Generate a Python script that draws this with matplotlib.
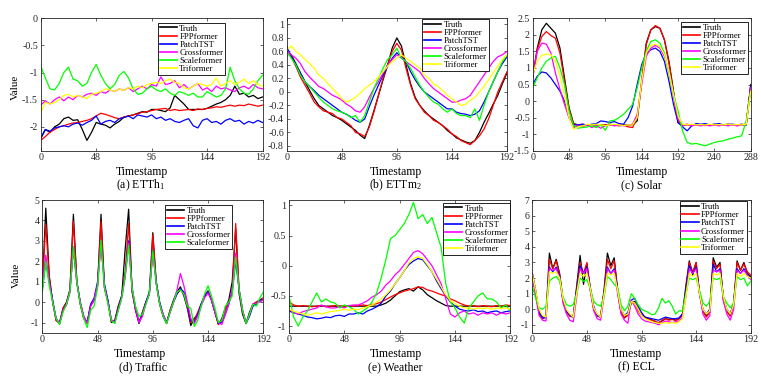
import numpy as np
import matplotlib
matplotlib.use('Agg')
import matplotlib.pyplot as plt
from matplotlib.ticker import FormatStrFormatter

plt.rcParams['font.family'] = 'serif'
plt.rcParams['font.serif'] = ['Liberation Serif', 'DejaVu Serif']
plt.rcParams['mathtext.fontset'] = 'stix'
plt.rcParams['axes.unicode_minus'] = False

names = ['Truth', 'FPPformer', 'PatchTST', 'Crossformer', 'Scaleformer', 'Triformer']
# matlab-like pure colours
colors = [(0, 0, 0), (1, 0, 0), (0, 0, 1), (1, 0, 1), (0, 1, 0), (1, 1, 0)]

# time grids (sampled timestamps)
t4 = np.arange(0, 193, 4)
t3 = np.arange(0, 193, 3)
t6 = np.arange(0, 289, 6)

# (a) ETTh1
etth1_truth = [-2.22, -2.05, -2.1, -2.0, -1.95, -1.85, -1.82, -1.88, -1.87, -2.05,
               -2.25, -2.1, -1.92, -1.95, -1.97, -2.02, -1.95, -1.9, -1.82, -1.8,
               -1.78, -1.75, -1.72, -1.73, -1.68, -1.68, -1.7, -1.72, -1.65, -1.42,
               -1.5, -1.58, -1.68, -1.68, -1.68, -1.68, -1.66, -1.62, -1.58, -1.55,
               -1.5, -1.42, -1.25, -1.4, -1.38, -1.45, -1.42, -1.48, -1.45]
etth1_fpp = [-2.25, -2.18, -2.1, -2.05, -2.0, -1.98, -1.95, -1.93, -1.92, -1.9,
             -1.88, -1.85, -1.8, -1.75, -1.77, -1.8, -1.83, -1.85, -1.82, -1.8,
             -1.78, -1.76, -1.73, -1.72, -1.7, -1.68, -1.67, -1.66, -1.7, -1.68,
             -1.7, -1.69, -1.68, -1.7, -1.67, -1.68, -1.66, -1.65, -1.63, -1.64,
             -1.62, -1.6, -1.62, -1.6, -1.61, -1.58, -1.6, -1.62, -1.6]
etth1_patch = [-2.2, -2.05, -2.08, -2.02, -2.0, -1.98, -2.0, -1.95, -1.93, -1.97,
               -1.92, -1.88, -1.8, -1.95, -1.9, -1.88, -1.92, -1.85, -1.83, -1.8,
               -1.85, -1.78, -1.8, -1.82, -1.78, -1.85, -1.82, -1.88, -1.85, -1.9,
               -1.92, -1.88, -1.85, -1.98, -2.02, -1.88, -1.85, -1.92, -1.9, -1.95,
               -1.88, -1.85, -1.9, -1.88, -1.95, -1.9, -1.93, -1.88, -1.92]
etth1_cross = [-1.6, -1.52, -1.58, -1.5, -1.45, -1.52, -1.45, -1.5, -1.42, -1.45,
               -1.4, -1.38, -1.42, -1.35, -1.38, -1.32, -1.35, -1.3, -1.33, -1.28,
               -1.35, -1.3, -1.25, -1.3, -1.22, -1.25, -1.08, -1.22, -1.2, -1.15,
               -1.28, -1.22, -1.3, -1.25, -1.2, -1.32, -1.28, -1.35, -1.25, -1.3,
               -1.28, -1.32, -1.35, -1.28, -1.25, -1.3, -1.22, -1.28, -1.3]
etth1_scale = [-0.88, -1.1, -1.3, -1.32, -1.2, -1.0, -0.9, -1.12, -1.15, -1.25,
               -1.2, -1.0, -0.85, -1.05, -1.2, -1.3, -1.22, -1.05, -0.98, -1.1,
               -1.3, -1.4, -1.38, -1.3, -1.25, -1.32, -1.35, -1.3, -1.38, -1.42,
               -1.35, -1.38, -1.42, -1.38, -1.45, -1.45, -1.35, -1.4, -1.45, -1.42,
               -1.3, -0.9, -1.15, -1.3, -1.38, -1.4, -1.3, -1.15, -1.05]
etth1_tri = [-1.75, -1.55, -1.58, -1.55, -1.5, -1.42, -1.4, -1.45, -1.42, -1.45,
             -1.48, -1.4, -1.38, -1.35, -1.3, -1.32, -1.35, -1.3, -1.33, -1.28,
             -1.3, -1.25, -1.28, -1.22, -1.2, -1.18, -1.2, -1.15, -1.12, -1.18,
             -1.2, -1.28, -1.3, -1.25, -1.2, -1.22, -1.25, -1.22, -1.1, -1.25,
             -1.2, -1.15, -1.22, -1.18, -1.12, -1.2, -1.15, -1.22, -1.25]

# (b) ETTm2
ettm2_truth = [0.62, 0.55, 0.42, 0.28, 0.15, 0.02, -0.1, -0.2, -0.25, -0.3,
               -0.35, -0.38, -0.42, -0.47, -0.52, -0.57, -0.64, -0.69, -0.5, -0.28,
               -0.05, 0.18, 0.4, 0.65, 0.8, 0.68, 0.4, 0.12, -0.08, -0.2,
               -0.28, -0.35, -0.4, -0.45, -0.5, -0.57, -0.62, -0.68, -0.71, -0.74,
               -0.76, -0.72, -0.6, -0.45, -0.32, -0.18, -0.05, 0.12, 0.28]
ettm2_fpp = [0.58, 0.52, 0.38, 0.22, 0.1, -0.02, -0.15, -0.22, -0.28, -0.3,
             -0.32, -0.38, -0.4, -0.45, -0.5, -0.6, -0.62, -0.66, -0.52, -0.3,
             -0.05, 0.2, 0.4, 0.6, 0.72, 0.62, 0.35, 0.1, -0.1, -0.2,
             -0.3, -0.35, -0.42, -0.45, -0.5, -0.55, -0.62, -0.66, -0.72, -0.75,
             -0.78, -0.72, -0.65, -0.55, -0.4, -0.2, 0.0, 0.15, 0.3]
ettm2_patch = [0.68, 0.52, 0.4, 0.28, 0.15, 0.08, 0.02, -0.05, -0.1, -0.15,
               -0.2, -0.25, -0.3, -0.33, -0.37, -0.42, -0.45, -0.4, -0.22, -0.05,
               0.1, 0.25, 0.38, 0.5, 0.58, 0.52, 0.45, 0.3, 0.18, 0.08,
               0.0, -0.05, -0.1, -0.15, -0.2, -0.25, -0.25, -0.3, -0.32, -0.33,
               -0.35, -0.33, -0.28, -0.15, 0.0, 0.15, 0.3, 0.42, 0.52]
ettm2_cross = [0.62, 0.55, 0.5, 0.42, 0.3, 0.22, 0.15, 0.08, 0.05, 0.0,
               -0.05, -0.08, -0.12, -0.18, -0.22, -0.28, -0.3, -0.22, -0.08, 0.05,
               0.15, 0.28, 0.4, 0.48, 0.55, 0.5, 0.45, 0.4, 0.35, 0.3,
               0.2, 0.12, 0.05, 0.0, -0.05, -0.1, -0.15, -0.15, -0.12, -0.1,
               -0.05, 0.05, 0.15, 0.25, 0.35, 0.45, 0.52, 0.55, 0.6]
ettm2_scale = [0.6, 0.5, 0.4, 0.25, 0.15, 0.08, 0.0, -0.08, -0.15, -0.2,
               -0.25, -0.28, -0.3, -0.33, -0.38, -0.35, -0.45, -0.35, -0.15, 0.05,
               0.2, 0.35, 0.48, 0.55, 0.65, 0.5, 0.45, 0.35, 0.22, 0.1,
               0.0, -0.08, -0.15, -0.18, -0.25, -0.3, -0.25, -0.32, -0.35, -0.35,
               -0.38, -0.25, -0.42, -0.2, 0.0, 0.15, 0.3, 0.45, 0.55]
ettm2_tri = [0.62, 0.68, 0.6, 0.55, 0.48, 0.42, 0.35, 0.25, 0.2, 0.12,
             0.05, -0.02, -0.1, -0.15, -0.12, -0.08, -0.02, 0.05, 0.1, 0.15,
             0.22, 0.3, 0.38, 0.45, 0.5, 0.55, 0.5, 0.45, 0.4, 0.35,
             0.25, 0.2, 0.12, 0.08, 0.02, -0.05, -0.1, -0.15, -0.2, -0.18,
             -0.12, -0.08, 0.0, 0.08, 0.18, 0.28, 0.38, 0.48, 0.55]

# (c) Solar
solar_truth = [0.7, 1.6, 2.15, 2.35, 2.2, 2.05, 1.6, 0.7, -0.2, -0.68,
               -0.72, -0.72, -0.72, -0.72, -0.72, -0.72, -0.72, -0.72, -0.72, -0.72,
               -0.72, -0.72, -0.72, -0.6, 0.6, 1.75, 2.15, 2.25, 2.2, 1.85,
               1.2, 0.3, -0.65, -0.72, -0.72, -0.72, -0.72, -0.72, -0.72, -0.72,
               -0.72, -0.72, -0.72, -0.72, -0.72, -0.72, -0.72, -0.72, 0.5]
solar_fpp = [0.8, 1.55, 1.95, 2.1, 1.98, 1.9, 1.45, 0.6, -0.25, -0.7,
             -0.72, -0.7, -0.74, -0.72, -0.7, -0.73, -0.72, -0.7, -0.72, -0.75,
             -0.73, -0.78, -0.8, -0.5, 0.6, 1.7, 2.15, 2.28, 2.2, 1.85,
             1.15, 0.25, -0.65, -0.72, -0.7, -0.73, -0.7, -0.72, -0.74, -0.72,
             -0.7, -0.73, -0.72, -0.7, -0.72, -0.74, -0.72, -0.7, 0.45]
solar_patch = [0.5, 0.75, 0.88, 0.85, 0.7, 0.5, 0.3, 0.0, -0.5, -0.72,
               -0.72, -0.7, -0.72, -0.7, -0.68, -0.6, -0.62, -0.65, -0.62, -0.68,
               -0.7, -0.5, -0.15, 0.5, 1.1, 1.45, 1.55, 1.6, 1.5, 1.2,
               0.6, -0.1, -0.65, -0.78, -0.9, -0.75, -0.68, -0.7, -0.68, -0.72,
               -0.7, -0.68, -0.72, -0.7, -0.7, -0.72, -0.7, -0.72, 0.45]
solar_cross = [0.7, 1.5, 1.75, 1.72, 1.45, 0.85, 0.35, -0.1, -0.5, -0.8,
               -0.75, -0.78, -0.72, -0.8, -0.75, -0.82, -0.75, -0.72, -0.75, -0.72,
               -0.75, -0.72, -0.7, -0.4, 0.5, 1.35, 1.6, 1.68, 1.6, 1.35,
               0.9, 0.15, -0.55, -0.75, -0.72, -0.75, -0.72, -0.75, -0.72, -0.75,
               -0.72, -0.75, -0.72, -0.75, -0.72, -0.75, -0.72, -0.7, 0.4]
solar_scale = [0.4, 0.7, 1.0, 1.2, 1.3, 1.35, 1.0, 0.5, -0.3, -0.75,
               -0.82, -0.8, -0.78, -0.75, -0.8, -0.72, -0.88, -0.6, -0.58, -0.5,
               -0.4, -0.25, -0.1, 0.4, 1.0, 1.5, 1.8, 1.85, 1.75, 1.45,
               0.85, 0.2, -0.3, -0.9, -1.25, -1.3, -1.28, -1.32, -1.35, -1.3,
               -1.25, -1.22, -1.2, -1.15, -1.12, -1.08, -1.05, -0.6, 0.3]
solar_tri = [0.8, 1.2, 1.38, 1.42, 1.4, 1.2, 0.75, 0.15, -0.5, -0.85,
             -0.78, -0.75, -0.7, -0.72, -0.7, -0.72, -0.74, -0.72, -0.7, -0.72,
             -0.74, -0.72, -0.72, -0.5, 0.6, 1.45, 1.68, 1.72, 1.65, 1.4,
             0.9, 0.2, -0.45, -0.7, -0.72, -0.7, -0.72, -0.71, -0.72, -0.7,
             -0.72, -0.71, -0.72, -0.7, -0.72, -0.71, -0.72, -0.7, 0.3]

# (d) Traffic
traffic_truth = [0.7, 4.6, 1.3, 0.0, -0.9, -1.0, -0.3, 0.0, 0.6, 4.3,
                 1.0, -0.1, -0.8, -1.0, -0.15, 0.1, 0.8, 4.3, 0.7, 0.05,
                 -1.0, -0.9, -0.2, 0.3, 2.6, 4.55, 0.5, -0.4, -1.05, -0.5,
                 0.0, 0.4, 3.4, 0.9, -0.1, -0.7, -1.05, -0.4, 0.1, 0.5,
                 0.75, 0.3, -0.3, -1.15, -0.8, -0.6, -0.1, 0.3, 0.55, 0.1,
                 -0.5, -1.1, -0.8, -0.3, 0.1, 1.0, 3.6, 0.4, -0.6, -1.05,
                 -0.5, -0.1, 0.0, 0.1, 0.2]
traffic_fpp = [0.8, 3.8, 1.2, 0.0, -0.9, -1.05, -0.3, -0.05, 0.6, 3.95,
               1.0, -0.1, -0.8, -1.05, -0.2, 0.1, 0.8, 3.95, 0.7, 0.0,
               -0.95, -0.9, -0.2, 0.3, 1.5, 3.85, 0.6, -0.4, -1.0, -0.5,
               0.0, 0.4, 3.3, 1.0, -0.1, -0.7, -1.0, -0.4, 0.0, 0.4,
               0.6, 0.4, -0.2, -1.0, -0.9, -0.5, -0.1, 0.3, 0.5, 0.1,
               -0.5, -1.1, -0.9, -0.4, 0.0, 0.5, 3.85, 0.6, -0.5, -1.05,
               -0.6, -0.1, 0.0, 0.1, 0.2]
traffic_patch = [0.6, 2.0, 1.0, 0.1, -0.8, -1.05, -0.4, -0.1, 0.5, 2.7,
                 1.0, 0.0, -0.7, -1.0, -0.1, 0.2, 1.0, 2.9, 0.9, 0.1,
                 -0.9, -0.95, -0.3, 0.3, 1.3, 3.0, 0.7, -0.3, -1.0, -0.6,
                 0.0, 0.5, 2.5, 1.0, 0.0, -0.6, -1.0, -0.5, 0.0, 0.4,
                 0.65, 0.5, -0.1, -0.9, -1.0, -0.6, -0.1, 0.3, 0.5, 0.1,
                 -0.5, -1.05, -1.0, -0.6, -0.1, 0.5, 2.0, 0.6, -0.4, -1.05,
                 -0.7, -0.2, -0.1, 0.1, 0.1]
traffic_cross = [0.9, 2.3, 1.0, 0.0, -0.8, -1.05, -0.4, -0.15, 0.5, 2.6,
                 0.9, 0.0, -0.7, -1.05, -0.2, 0.1, 0.9, 2.8, 0.8, 0.0,
                 -0.85, -1.0, -0.4, 0.2, 1.2, 2.9, 0.6, -0.3, -1.0, -0.7,
                 -0.1, 0.4, 2.4, 0.9, -0.1, -0.6, -1.05, -0.5, 0.0, 0.6,
                 1.4, 0.8, 0.0, -0.8, -1.05, -0.7, -0.2, 0.2, 0.45, 0.1,
                 -0.5, -1.0, -1.1, -0.6, -0.1, 0.6, 2.4, 0.6, -0.4, -1.05,
                 -0.6, -0.1, -0.05, 0.0, 0.1]
traffic_scale = [0.5, 2.0, 0.8, 0.0, -0.8, -1.1, -0.5, -0.1, 0.5, 2.7,
                 1.0, -0.1, -0.8, -1.25, -0.4, -0.2, 0.7, 3.0, 0.7, -0.1,
                 -0.9, -1.05, -0.4, 0.2, 1.3, 2.8, 0.7, -0.2, -0.7, -0.6,
                 -0.1, 0.4, 2.5, 0.9, -0.1, -0.7, -1.05, -0.5, 0.0, 0.5,
                 0.6, 0.4, -0.2, -0.3, -1.2, -0.9, -0.2, 0.4, 0.8, 0.3,
                 -0.3, -1.0, -0.9, -0.2, 0.0, 0.3, 2.2, 0.6, -0.4, -1.05,
                 -0.6, -0.1, -0.2, 0.2, 0.5]

# (e) Weather
weather_truth = [-0.67, -0.67, -0.67, -0.67, -0.67, -0.67, -0.67, -0.67, -0.67, -0.67,
                 -0.67, -0.67, -0.67, -0.67, -0.67, -0.67, -0.67, -0.67, -0.67, -0.67,
                 -0.65, -0.62, -0.57, -0.5, -0.43, -0.4, -0.38, -0.42, -0.35, -0.4,
                 -0.48, -0.53, -0.58, -0.62, -0.66, -0.67, -0.67, -0.67, -0.67, -0.67,
                 -0.67, -0.67, -0.67, -0.67, -0.67, -0.67, -0.67, -0.67, -0.67]
weather_fpp = [-0.6, -0.65, -0.67, -0.66, -0.67, -0.68, -0.67, -0.66, -0.68, -0.67,
               -0.66, -0.67, -0.68, -0.66, -0.67, -0.66, -0.65, -0.66, -0.64, -0.63,
               -0.6, -0.56, -0.52, -0.48, -0.45, -0.42, -0.4, -0.38, -0.35, -0.36,
               -0.4, -0.42, -0.45, -0.48, -0.5, -0.55, -0.58, -0.62, -0.65, -0.67,
               -0.66, -0.68, -0.66, -0.67, -0.68, -0.66, -0.67, -0.65, -0.66]
weather_patch = [-0.75, -0.78, -0.8, -0.82, -0.85, -0.86, -0.88, -0.87, -0.85, -0.86,
                 -0.83, -0.82, -0.84, -0.8, -0.8, -0.78, -0.8, -0.75, -0.72, -0.68,
                 -0.62, -0.5, -0.42, -0.3, -0.2, -0.08, 0.02, 0.08, 0.12, 0.1,
                 0.0, -0.1, -0.25, -0.38, -0.5, -0.6, -0.67, -0.72, -0.74, -0.75,
                 -0.73, -0.76, -0.75, -0.78, -0.76, -0.75, -0.78, -0.76, -0.75]
weather_cross = [-0.72, -0.78, -0.8, -0.76, -0.74, -0.72, -0.7, -0.65, -0.68, -0.7,
                 -0.7, -0.68, -0.7, -0.66, -0.65, -0.65, -0.62, -0.58, -0.52, -0.48,
                 -0.42, -0.32, -0.25, -0.15, -0.08, 0.02, 0.12, 0.22, 0.25, 0.2,
                 0.1, 0.0, -0.15, -0.3, -0.55, -0.8, -0.85, -0.78, -0.75, -0.8,
                 -0.78, -0.82, -0.78, -0.8, -0.78, -0.82, -0.78, -0.8, -0.78]
weather_scale = [-0.5, -0.85, -1.0, -0.85, -0.75, -0.6, -0.45, -0.6, -0.55, -0.6,
                 -0.62, -0.7, -0.65, -0.68, -0.72, -0.8, -0.75, -0.7, -0.6, -0.45,
                 -0.2, 0.1, 0.45, 0.5, 0.6, 0.7, 0.85, 1.05, 0.78, 0.85,
                 0.7, 0.8, 0.55, 0.3, -0.3, -0.6, -0.7, -0.85, -0.95, -0.7,
                 -0.6, -0.5, -0.45, -0.55, -0.55, -0.6, -0.7, -0.65, -0.75]
weather_tri = [-0.72, -0.75, -0.78, -0.8, -0.82, -0.8, -0.78, -0.8, -0.78, -0.76,
               -0.75, -0.74, -0.72, -0.74, -0.72, -0.73, -0.7, -0.68, -0.65, -0.6,
               -0.55, -0.48, -0.4, -0.3, -0.2, -0.08, 0.05, 0.12, 0.15, 0.12,
               0.02, -0.1, -0.22, -0.35, -0.48, -0.58, -0.63, -0.67, -0.7, -0.7,
               -0.72, -0.7, -0.71, -0.7, -0.72, -0.7, -0.71, -0.7, -0.72]

# (f) ECL
ecl_truth = [2.3, 1.2, -0.2, -0.5, -0.55, 3.6, 2.6, 3.2, 2.3, 0.6,
             -0.15, -0.35, -0.45, 1.5, 3.45, 1.6, 2.9, 1.2, 0.0, -0.35,
             -0.45, 1.2, 3.6, 2.8, 3.3, 1.2, -0.2, -0.55, -0.3, 0.4,
             0.5, 0.0, -0.35, -0.5, -0.6, -0.68, -0.8, -0.85, -0.75, -0.6,
             -0.65, -0.62, -0.7, -0.6, -0.3, 1.5, 3.1, 2.2, 3.0, 1.0,
             -0.1, -0.4, -0.05, 3.3, 2.7, 3.0, 0.6, -0.05, -0.35, 0.4,
             3.1, 2.5, 3.0, 2.3, 2.1]
ecl_fpp = [2.2, 1.0, -0.3, -0.6, -0.5, 3.2, 2.6, 3.1, 2.2, 0.5,
           -0.2, -0.45, -0.5, 1.3, 3.0, 2.3, 3.0, 1.3, 0.0, -0.45,
           -0.5, 1.0, 3.2, 2.6, 3.1, 1.2, -0.2, -0.55, -0.4, 0.5,
           0.4, -0.1, -0.4, -0.55, -0.6, -0.7, -0.75, -0.9, -0.7, -0.6,
           -0.7, -0.65, -0.72, -0.6, -0.35, 1.2, 3.0, 2.4, 3.0, 1.0,
           -0.15, -0.5, -0.2, 3.1, 2.6, 2.9, 0.6, -0.15, -0.45, 0.3,
           3.0, 2.5, 2.9, 2.4, 2.2]
ecl_patch = [2.1, 1.0, -0.2, -0.55, -0.5, 2.7, 2.4, 2.7, 2.1, 0.6,
             -0.1, -0.4, -0.5, 1.2, 2.8, 2.3, 2.7, 1.4, 0.2, -0.4,
             -0.5, 1.0, 2.7, 2.3, 2.6, 1.3, 0.0, -0.4, -0.2, 0.6,
             0.7, 0.2, -0.2, -0.5, -0.55, -0.6, -0.65, -0.7, -0.6, -0.5,
             -0.55, -0.6, -0.6, -0.55, -0.3, 1.2, 2.8, 2.3, 2.7, 1.1,
             0.0, -0.3, 0.0, 2.9, 2.4, 2.6, 0.8, 0.0, -0.3, 0.4,
             2.6, 2.3, 2.6, 2.2, 2.0]
ecl_cross = [2.3, 0.8, -0.4, -0.7, -0.75, 2.6, 2.5, 2.6, 2.0, 0.4,
             -0.3, -0.7, -0.8, 0.8, 2.6, 2.3, 2.6, 1.2, -0.1, -0.6,
             -0.7, 0.8, 2.6, 2.3, 2.5, 1.0, -0.3, -0.7, -0.9, 0.6,
             0.2, -0.3, -0.6, -0.75, -0.8, -0.85, -0.9, -1.0, -0.85, -0.75,
             -0.8, -0.85, -0.8, -0.75, -0.5, 0.8, 2.6, 2.3, 2.6, 1.0,
             -0.3, -0.7, -0.4, 2.5, 2.4, 2.5, 0.5, -0.3, -0.7, 0.0,
             2.5, 2.3, 2.5, 2.2, 1.9]
ecl_scale = [1.45, 0.7, 0.1, 0.0, 0.2, 1.8, 2.0, 2.1, 1.8, 0.8,
             0.3, 0.2, 0.3, 1.0, 2.0, 1.8, 1.9, 1.3, 0.5, 0.3,
             0.2, 0.8, 2.1, 1.9, 1.6, 1.4, 0.3, -0.1, 0.2, 1.0,
             0.7, 0.3, 0.0, -0.1, -0.2, -0.35, -0.3, 0.1, 0.7, 0.4,
             0.55, 0.2, -0.3, -0.1, -0.1, 1.0, 2.0, 1.9, 2.0, 1.2,
             0.4, 0.2, 0.5, 2.0, 1.9, 2.0, 0.8, 0.4, 0.1, 0.4,
             2.1, 1.9, 2.0, 1.5, 1.8]
ecl_tri = [2.2, 1.2, 0.0, -0.4, -0.5, 2.4, 2.3, 2.4, 2.0, 0.7,
           0.0, -0.3, -0.5, 1.0, 2.3, 2.1, 2.3, 1.3, 0.1, -0.3,
           -0.5, 0.9, 2.3, 2.2, 2.3, 1.2, 0.0, -0.4, -0.3, 0.5,
           0.4, 0.0, -0.4, -0.6, -0.7, -0.8, -0.85, -0.9, -0.9, -0.85,
           -0.9, -0.85, -0.9, -0.8, -0.6, 0.8, 2.3, 2.1, 2.3, 1.0,
           0.0, -0.3, -0.1, 2.3, 2.2, 2.3, 0.8, 0.0, -0.3, 0.3,
           2.3, 2.1, 2.3, 2.1, 2.0]

# y tick values of each panel
ticks_a = [-2, -1.5, -1, -0.5, 0]
ticks_b = [-0.8, -0.6, -0.4, -0.2, 0, 0.2, 0.4, 0.6, 0.8, 1]
ticks_c = [-1.5, -1, -0.5, 0, 0.5, 1, 1.5, 2, 2.5]
ticks_d = [-1, 0, 1, 2, 3, 4, 5]
ticks_e = [-1, -0.5, 0, 0.5, 1]
ticks_f = [-1, 0, 1, 2, 3, 4, 5, 6, 7]


def px(x, y):
    # pixel position -> figure fraction
    return x / 761, 1 - y / 383


def panel(fig, rect, t, curves, xmax, ylim, yticks, leg_xy):
    ax = fig.add_axes(rect)
    for i, y in enumerate(curves):
        ax.plot(t, y, color=colors[i], lw=0.9, label=names[i])
    ax.set_xlim(0, xmax)
    ax.set_ylim(*ylim)
    ax.set_xticks(np.arange(0, xmax + 1, 48))
    ax.set_yticks(yticks)
    ax.yaxis.set_major_formatter(FormatStrFormatter('%g'))
    ax.tick_params(direction='in', top=True, right=True, length=2.5, width=0.5,
                   labelsize=7.2, pad=2, colors='#262626')
    for s in ax.spines.values():
        s.set_linewidth(0.6)
        s.set_color('#262626')
    leg = ax.legend(loc='upper right', bbox_to_anchor=leg_xy, fontsize=6.3,
                    frameon=True, fancybox=False, edgecolor='k', framealpha=1,
                    handlelength=2.0, handletextpad=0.25, labelspacing=0.0,
                    borderpad=0.2, borderaxespad=0)
    leg.get_frame().set_linewidth(0.6)
    for h in leg.get_lines():
        h.set_linewidth(1.2)
    return ax


fig = plt.figure(figsize=(7.61, 3.83), dpi=100)

top = 0.6065
th = 0.3457
bot = 0.1313
bh = 0.3465

panel(fig, [0.0535, top, 0.2915, th], t4,
      [etth1_truth, etth1_fpp, etth1_patch, etth1_cross, etth1_scale, etth1_tri],
      192, (-2.44, 0), ticks_a, (0.831, 0.967))
panel(fig, [0.3767, top, 0.2895, th], t4,
      [ettm2_truth, ettm2_fpp, ettm2_patch, ettm2_cross, ettm2_scale, ettm2_tri],
      192, (-0.87, 1.09), ticks_b, (0.92, 0.995))
panel(fig, [0.7, top, 0.2865, th], t6,
      [solar_truth, solar_fpp, solar_patch, solar_cross, solar_scale, solar_tri],
      288, (-1.5, 2.5), ticks_c, (0.989, 0.974))
panel(fig, [0.0556, bot, 0.2904, bh], t3,
      [traffic_truth, traffic_fpp, traffic_patch, traffic_cross, traffic_scale],
      192, (-1.5, 5), ticks_d, (0.86, 0.962))
panel(fig, [0.3798, bot, 0.2908, bh], t4,
      [weather_truth, weather_fpp, weather_patch, weather_cross, weather_scale, weather_tri],
      192, (-1.11, 1.09), ticks_e, (1.0, 0.98))
panel(fig, [0.6995, bot, 0.287, bh], t3,
      [ecl_truth, ecl_fpp, ecl_patch, ecl_cross, ecl_scale, ecl_tri],
      192, (-1.5, 7), ticks_f, (0.982, 0.99))

# x labels and captions (placed by pixel, as in the source figure)
labels = [(141.5, 174.5, 141, 188, r'(a) ETTh$_{\mathregular{1}}$'),
          (395.7, 174.5, 395.7, 188, r'(b) ETTm$_{\mathregular{2}}$'),
          (641.7, 174.5, 641.7, 188, '(c) Solar'),
          (140, 356.7, 143.3, 370.7, '(d) Traffic'),
          (395.7, 356.7, 395.7, 370.7, '(e) Weather'),
          (636, 356.7, 636, 370.7, '(f) ECL')]
for xl, yl, xc, yc, cap in labels:
    fig.text(*px(xl, yl), 'Timestamp', ha='center', va='baseline', fontsize=8.5)
    fig.text(*px(xc, yc), cap, ha='center', va='baseline', fontsize=8.5)

fig.text(*px(15, 87.3), 'Value', rotation=90, ha='center', va='center', fontsize=8)
fig.text(*px(16.7, 275.3), 'Value', rotation=90, ha='center', va='center', fontsize=8)

plt.savefig('out.png', dpi=100)
